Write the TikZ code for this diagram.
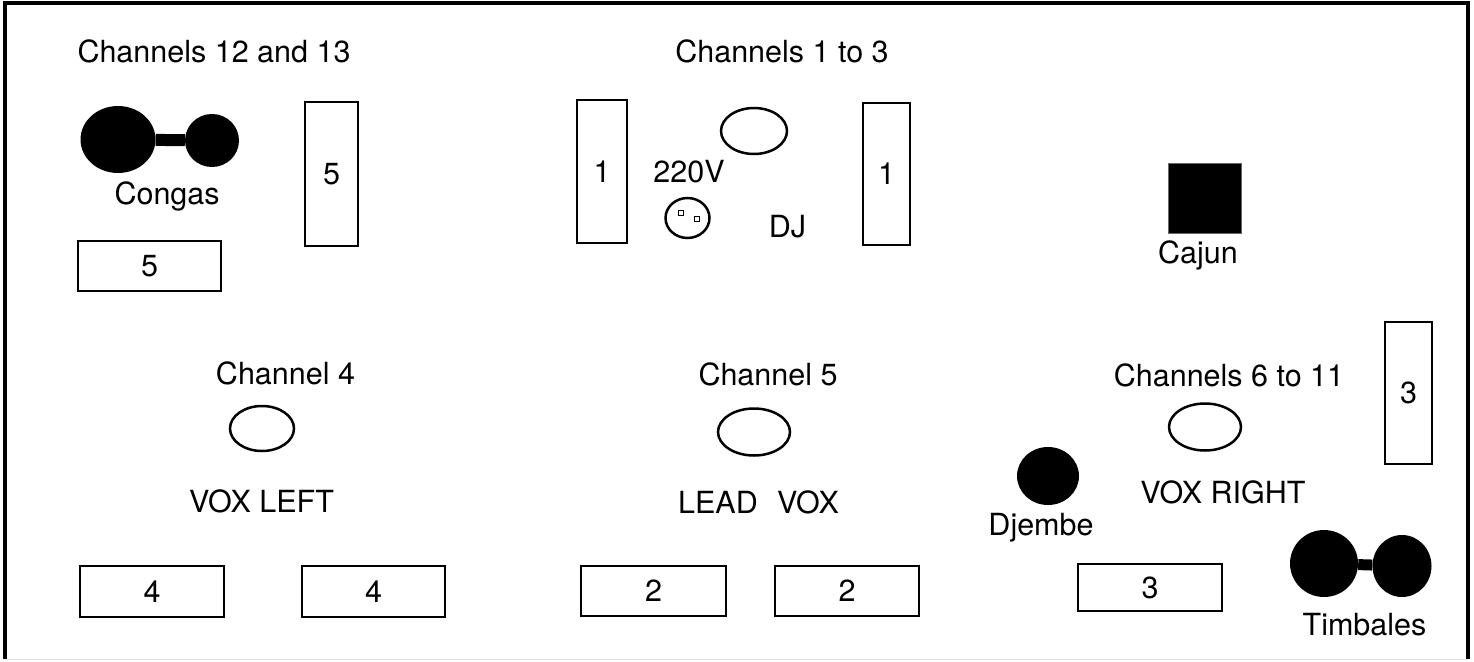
\documentclass[tikz,border=0pt]{standalone}
\usepackage{fontspec}
\setmainfont{TeX Gyre Heros}
\usetikzlibrary{shapes.geometric}

\begin{document}
\begin{tikzpicture}[x=1pt,y=-1pt]
\tikzstyle{lbl}=[anchor=base, inner sep=0pt, font=\fontsize{30.5}{36}\selectfont]
\tikzstyle{box}=[draw, line width=2.5pt, inner sep=0pt, font=\fontsize{30.5}{36}\selectfont]
\tikzstyle{mic}=[draw, ellipse, line width=2.5pt, inner sep=0pt]
\tikzstyle{drum}=[fill, ellipse, inner sep=0pt]
\tikzstyle{prong}=[draw, line width=1pt, inner sep=0pt, minimum size=5pt]

\useasboundingbox (0,0) rectangle (1474,661);
% stage outline
\draw[line width=3.5pt] (5,659) -- (5,3) -- (1468,3) -- (1468,659);
\draw[line width=1pt, black!12] (5,659) -- (1468,659);

% monitors
\foreach \n/\x/\y/\w/\h/\t in {monA/149.5/266/143/50/5, monB/331.5/174/53/144/5,
  monC/602/171.5/50/143/1, monD/886.5/174/47/142/1, monE/1408.5/393/47/142/3,
  monF/152/591.5/144/51/4, monG/373.5/591.5/143/51/4, monH/653.5/591/145/50/2,
  monI/847/591/144/50/2, monJ/1150/587.5/144/47/3}
  {\node[box, minimum width=\w, minimum height=\h] (\n) at (\x,\y) {\t};}

% microphones
\foreach \n/\x/\y/\w/\h in {micDJ/754/131/66/46, micL/262/428.5/64/45,
  micC/754/432/72/47, micR/1205/427/72/47, socket/687.5/218/44/40}
  {\node[mic, minimum width=\w, minimum height=\h] (\n) at (\x,\y) {};}
\node[prong] (prA) at (681,213) {};
\node[prong] (prB) at (697,219) {};

% percussion
\node[drum, minimum width=75, minimum height=67] (congaA) at (118,139.5) {};
\node[drum, minimum width=54, minimum height=53] (congaB) at (212,140.5) {};
\draw[line width=12pt] (congaA) -- (congaB);
\node[drum, minimum width=62, minimum height=58] (djembe) at (1048,476) {};
\node[drum, minimum width=68, minimum height=67] (timbA) at (1324,563.5) {};
\node[drum, minimum width=59, minimum height=62] (timbB) at (1402,566) {};
\draw[line width=11pt] (timbA) -- (timbB);
\node[fill, draw=black!60, line width=0.8pt, minimum width=73, minimum height=70, inner sep=0pt] (cajon) at (1204.5,198) {};

% labels
\foreach \n/\x/\y/\t in {lCh1213/214/63/Channels 12 and 13, lCh13/782/63/Channels 1 to 3,
  lCongas/167/204/Congas, lVolt/689/182/220V, lDJ/787.5/237/DJ, lCajun/1198/263/Cajun,
  lCh4/285.5/384/Channel 4, lCh5/768/385/Channel 5, lCh611/1229/386/Channels 6 to 11,
  lVoxL/261.5/512/VOX LEFT, lVoxR/1223/503/VOX RIGHT, lDjembe/1041/535/Djembe,
  lTimb/1364.5/635/Timbales}
  {\node[lbl] (\n) at (\x,\y) {\t};}
\node[lbl] (lLead) at (758.5,513) {LEAD\hspace{0.35em} VOX};
\end{tikzpicture}
\end{document}
